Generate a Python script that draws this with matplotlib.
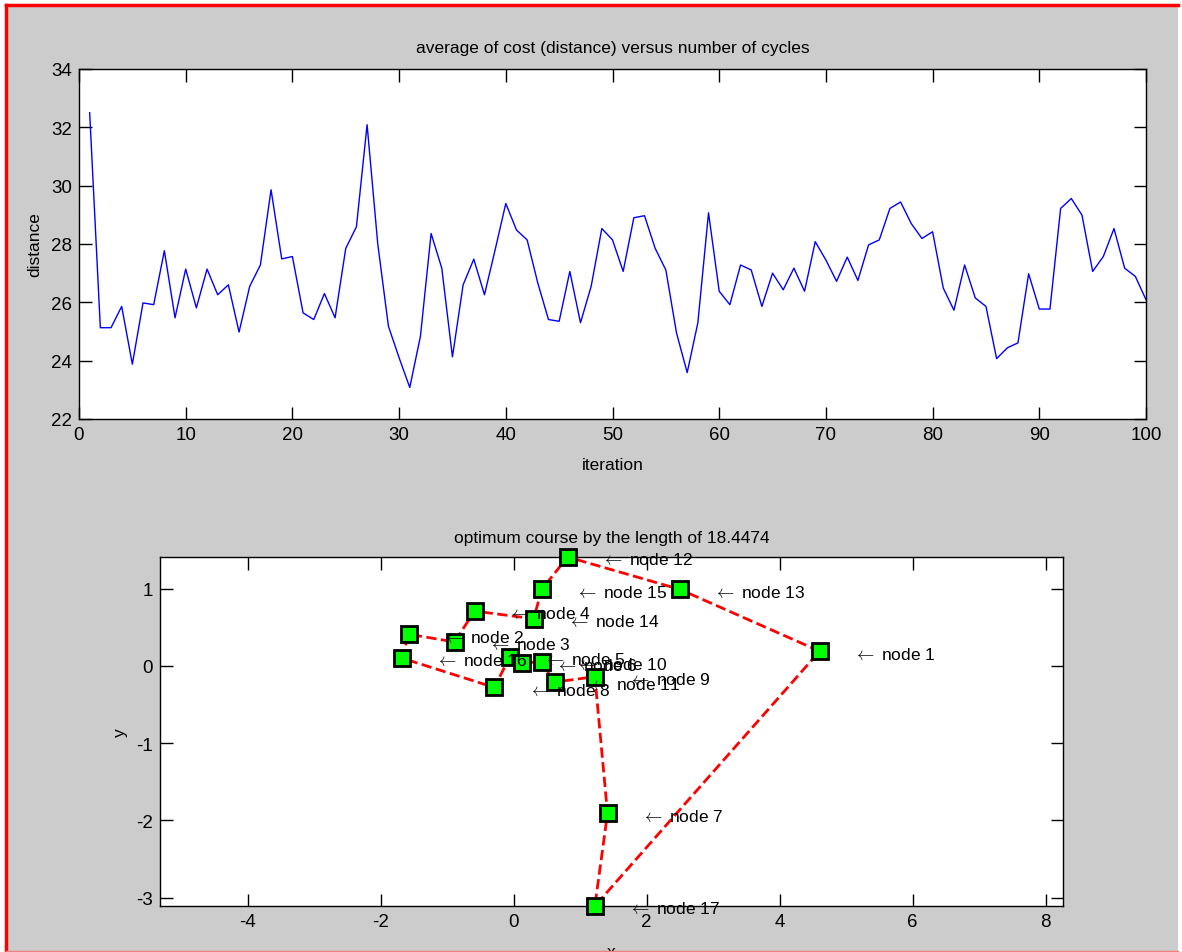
import matplotlib
matplotlib.use('Agg')
import matplotlib.pyplot as plt
from matplotlib.patches import Rectangle
from matplotlib.lines import Line2D

# average cost per cycle (iterations 1..100)
cost = [32.5, 25.13, 25.13, 25.86, 23.88, 25.98, 25.92, 27.77, 25.47, 27.14,
        25.81, 27.14, 26.26, 26.6, 24.98, 26.55, 27.28, 29.86, 27.49, 27.57,
        25.64, 25.41, 26.3, 25.47, 27.85, 28.59, 32.09, 28.0, 25.18, 24.1,
        23.08, 24.84, 28.36, 27.17, 24.13, 26.6, 27.48, 26.26, 27.8, 29.39,
        28.48, 28.14, 26.66, 25.41, 25.35, 27.06, 25.3, 26.55, 28.53, 28.14,
        27.06, 28.9, 28.97, 27.85, 27.11, 24.95, 23.59, 25.3, 29.07, 26.38,
        25.92, 27.28, 27.11, 25.86, 27.0, 26.43, 27.17, 26.38, 28.08, 27.45,
        26.72, 27.55, 26.75, 27.97, 28.14, 29.22, 29.44, 28.7, 28.19, 28.42,
        26.49, 25.73, 27.28, 26.15, 25.86, 24.07, 24.44, 24.61, 26.98, 25.77,
        25.77, 29.22, 29.56, 28.99, 27.06, 27.57, 28.53, 27.17, 26.89, 26.09]
iters = list(range(1, len(cost) + 1))

# node coordinates (node 1..17)
node_x = [4.60, -1.58, -0.89, -0.59, -0.06, 0.12, 1.41, -0.29, 1.22, 0.42,
          0.62, 0.81, 2.50, 0.30, 0.42, -1.68, 1.22]
node_y = [0.19, 0.41, 0.31, 0.71, 0.12, 0.04, -1.91, -0.28, -0.14, 0.05,
          -0.21, 1.41, 0.99, 0.61, 0.99, 0.10, -3.11]
tour = [1, 13, 12, 15, 14, 4, 3, 2, 16, 8, 5, 6, 10, 11, 9, 7, 17, 1]
best_len = 18.4474

plt.rcParams['font.family'] = ['Liberation Sans', 'DejaVu Sans']
plt.rcParams['axes.unicode_minus'] = False
TXT = 12.5
TICK = 13.5

W, H = 1182, 953
fig = plt.figure(figsize=(W / 100, H / 100), dpi=100)
fig.patch.set_facecolor('white')
fig.add_artist(Rectangle((6 / W, 0), 1172 / W, (H - 6) / H, transform=fig.transFigure,
                         facecolor='#cccccc', edgecolor='none', zorder=-10))
fig.add_artist(Line2D([6 / W, 6 / W], [0, (H - 6) / H], transform=fig.transFigure, color='red', lw=2.5))
fig.add_artist(Line2D([6 / W, 1178 / W], [(H - 6) / H, (H - 6) / H], transform=fig.transFigure, color='red', lw=2.5))
fig.add_artist(Line2D([6 / W, 1178 / W], [1.5 / H, 1.5 / H], transform=fig.transFigure, color='#f08080', lw=1))


def style(ax):
    ax.tick_params(direction='in', length=9, width=1, top=True, right=True, labelsize=TICK, pad=5)
    for s in ax.spines.values():
        s.set_linewidth(1)


ax1 = fig.add_axes([79 / W, 1 - 420 / H, 1067 / W, 350 / H])
ax1.plot(iters, cost, color='blue', lw=1)
ax1.set_xlim(0, 100)
ax1.set_ylim(22, 34)
ax1.set_xticks(range(0, 101, 10))
ax1.set_yticks(range(22, 35, 2))
ax1.set_title('average of cost (distance) versus number of cycles', fontsize=TXT, pad=12)
ax1.set_xlabel('iteration', fontsize=TXT, labelpad=10)
ax1.set_ylabel('distance', fontsize=TXT, labelpad=6)
style(ax1)

ax2 = fig.add_axes([160 / W, 1 - 907 / H, 903 / W, 349 / H])
tx = [node_x[k - 1] for k in tour]
ty = [node_y[k - 1] for k in tour]
ax2.plot(tx, ty, color='red', ls='--', lw=2, zorder=3)
ax2.plot(node_x, node_y, ls='none', marker='s', markersize=11, markerfacecolor='#00ff00',
         markeredgecolor='black', markeredgewidth=2, zorder=4, clip_on=False)
for i in range(len(node_x)):
    ax2.text(node_x[i] + 0.5, node_y[i] - 0.03, r'$\leftarrow$ node %d' % (i + 1),
             fontsize=TXT, va='center', ha='left', zorder=5, math_fontfamily='cm')
ax2.set_xlim(-5.32, 8.26)
ax2.set_ylim(min(node_y), max(node_y))
ax2.set_xticks(range(-4, 9, 2))
ax2.set_yticks(range(-3, 2))
ax2.set_title('optimum course by the length of %g' % best_len, fontsize=TXT, pad=11)
ax2.set_xlabel('x', fontsize=TXT, labelpad=10)
ax2.set_ylabel('y', fontsize=TXT, labelpad=6)
style(ax2)

fig.savefig('out.png', dpi=100)
